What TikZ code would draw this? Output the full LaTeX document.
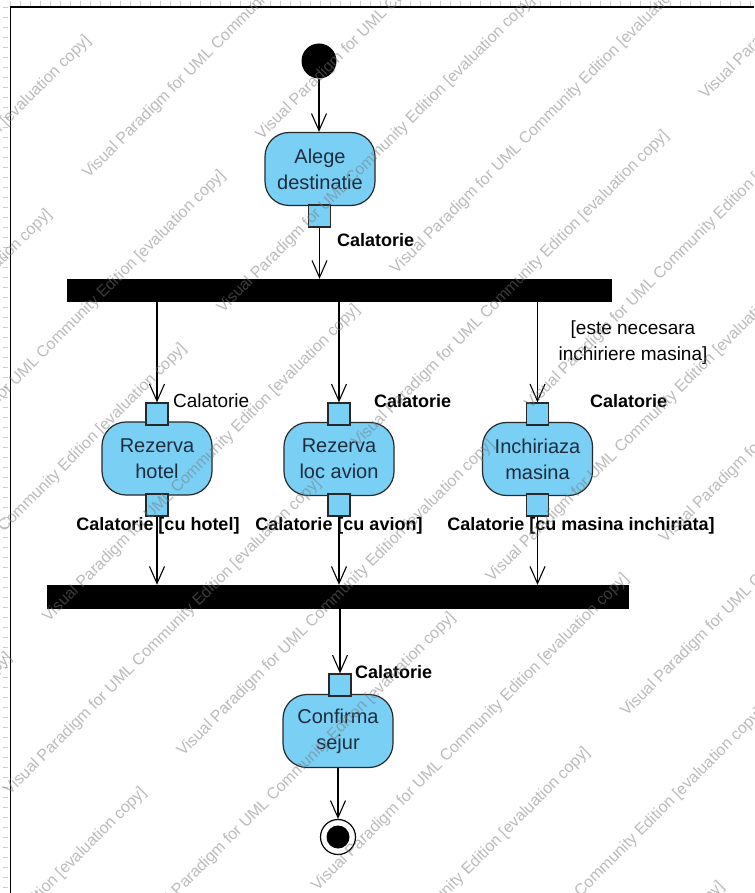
\documentclass[tikz,border=0pt]{standalone}
\usepackage{fontspec}
\setmainfont{Liberation Sans}
\usetikzlibrary{arrows.meta}
\definecolor{actfill}{RGB}{122,207,245}
\definecolor{actline}{RGB}{40,40,40}
\definecolor{acttext}{RGB}{30,45,60}
\definecolor{wmark}{RGB}{120,120,120}
\definecolor{rulergray}{RGB}{205,205,205}

\begin{document}
\begin{tikzpicture}[x=1pt,y=-1pt,
  action/.style={draw=actline, fill=actfill, rounded corners=24pt,
    minimum width=110pt, minimum height=73pt, line width=1.2pt,
    align=center, font=\fontsize{20}{26}\selectfont, text=acttext, inner sep=0pt},
  pinbox/.style={draw=actline, fill=actfill, minimum size=22pt,
    inner sep=0pt, line width=1.2pt},
  syncbar/.style={fill=black, draw=black, inner sep=0pt},
  flow/.style={line width=1.1pt,
    -{Straight Barb[length=17pt,width=15pt,line width=1.1pt]}},
  boldlab/.style={font=\bfseries\fontsize{18}{22}\selectfont, inner sep=0pt},
  plainlab/.style={font=\fontsize{19}{26}\selectfont, inner sep=0pt, align=center},
  wm/.style={font=\fontsize{16}{16}\selectfont, text=wmark, text opacity=0.5,
    rotate=45, anchor=base west, inner sep=0pt}]

\useasboundingbox (0,0) rectangle (754,893);
\fill[white] (0,0) rectangle (754,893);

% ruler strips outside the frame
\draw[rulergray, line width=5pt, dash pattern=on 1pt off 9pt] (10,3.5) -- (754,3.5);
\draw[rulergray, line width=5pt, dash pattern=on 1pt off 9pt] (5,7) -- (5,893);
% frame
\draw[black, line width=1.5pt] (10.5,893) -- (10.5,7) -- (754,7);

% initial node and first action
\node[circle, fill=black, minimum size=35pt, inner sep=0pt] (init) at (319,61) {};
\node[action] (alege) at (320,169) {Alege\\destinatie};
\node[pinbox] (pA) at (319.5,216) {};
\node[boldlab, anchor=west] at (337,240) {Calatorie};

% fork bar
\node[syncbar, minimum width=544pt, minimum height=22pt] (fork) at (339,290) {};

% parallel actions
\node[action] (hotel) at (157,458.5) {Rezerva\\hotel};
\node[pinbox] (pH1) at (157,414) {};
\node[pinbox] (pH2) at (157,505) {};

\node[action] (avion) at (339,459) {Rezerva\\loc avion};
\node[pinbox] (pV1) at (339,414) {};
\node[pinbox] (pV2) at (339,505) {};

\node[action] (masina) at (537.5,459) {Inchiriaza\\masina};
\node[pinbox] (pM1) at (537.5,414) {};
\node[pinbox] (pM2) at (537.5,505) {};

\node[plainlab, anchor=west] at (173,401) {Calatorie};
\node[boldlab, anchor=west] at (374,401) {Calatorie};
\node[boldlab, anchor=west] at (590,401) {Calatorie};
\node[plainlab] at (633,343) {[este necesara\\inchiriere masina]};

\node[boldlab] at (158,526) {Calatorie [cu hotel]};
\node[boldlab] at (339,526) {Calatorie [cu avion]};
\node[boldlab] at (581,526) {Calatorie [cu masina inchiriata]};

% join bar
\node[syncbar, minimum width=581pt, minimum height=23pt] (join) at (337.5,596.5) {};

% final action and final node
\node[action] (conf) at (338,731) {Confirma\\sejur};
\node[pinbox] (pC) at (340,685) {};
\node[boldlab, anchor=west] at (355,672) {Calatorie};
\node[circle, draw=black, line width=1.2pt, fill=white, minimum size=35pt, inner sep=0pt] (fin) at (338,837) {};
\fill[black] (fin.center) circle (11.5pt);

% control and object flows
\draw[flow] (init.south) -- (init.south |- alege.north);
\draw[flow] (pA.south) -- (pA.south |- fork.north);
\draw[flow] (fork.south -| pH1) -- (pH1.north);
\draw[flow] (fork.south -| pV1) -- (pV1.north);
\draw[flow] (fork.south -| pM1) -- (pM1.north);
\draw[flow] (pH2.south) -- (pH2.south |- join.north);
\draw[flow] (pV2.south) -- (pV2.south |- join.north);
\draw[flow] (pM2.south) -- (pM2.south |- join.north);
\draw[flow] (join.south -| pC) -- (pC.north);
\draw[flow] (conf.south -| fin) -- (fin.north);

% evaluation watermark: rows along x+y = const, text rising at 45 degrees;
% only copies that reach into the page are set
\begin{scope}
\clip (0,0) rectangle (754,893);
\foreach \k in {-2,...,10}{
  \foreach \m in {-3,...,2}{
    \pgfmathsetmacro{\rowc}{402+134.5*\k}
    \pgfmathsetmacro{\N}{0.7071*\rowc}
    \pgfmathsetmacro{\D}{86+492*\m-150*mod(\k+20,2)}
    \pgfmathsetmacro{\xlo}{max(0,\rowc-893)}
    \pgfmathsetmacro{\xhi}{min(754,\rowc)}
    \pgfmathsetmacro{\dlo}{0.7071*(2*\xlo-\rowc)}
    \pgfmathsetmacro{\dhi}{0.7071*(2*\xhi-\rowc)}
    \pgfmathtruncatemacro{\vis}{((\D+440>\dlo)&&(\D<\dhi-20)) ? 1 : 0}
    \ifnum\vis=1
      \node[wm] at ({0.7071*(\D+\N)},{0.7071*(\N-\D)})
        {Visual Paradigm for UML Community Edition [evaluation copy]};
    \fi
  }
}
\end{scope}
\end{tikzpicture}
\end{document}
